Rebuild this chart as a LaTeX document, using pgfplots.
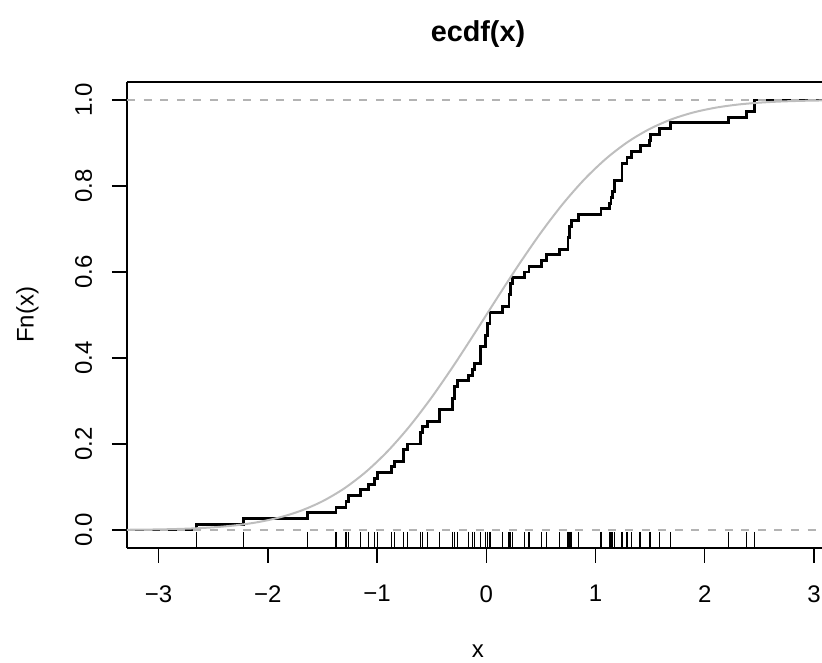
\documentclass[border=0pt]{standalone}
\usepackage{fontspec}
\setmainfont{Liberation Sans}
\usepackage{pgfplots}
\pgfplotsset{compat=1.18}
\usepackage{pgfplotstable}
\definecolor{rgray}{HTML}{BEBEBE}
\definecolor{rgray70}{HTML}{B3B3B3}

\pgfplotstableread{
x n
-3.290 0
-2.652 1
-2.225 2
-1.636 3
-1.376 4
-1.285 5
-1.260 6
-1.150 7
-1.081 8
-1.026 9
-0.995 10
-0.866 11
-0.842 12
-0.760 14
-0.723 15
-0.601 17
-0.582 18
-0.537 19
-0.430 21
-0.308 23
-0.293 25
-0.266 26
-0.165 27
-0.128 28
-0.110 29
-0.051 32
-0.009 34
0.009 36
0.034 38
0.150 39
0.208 41
0.223 43
0.238 44
0.348 45
0.391 46
0.507 47
0.553 48
0.668 49
0.748 51
0.766 53
0.782 54
0.842 55
1.050 56
1.126 57
1.142 58
1.158 59
1.172 61
1.243 64
1.288 65
1.332 66
1.408 67
1.496 68
1.505 69
1.584 70
1.689 71
2.216 72
2.385 73
2.458 75
3.074 75
}\ecdftab

\pgfplotstableread{
x y
-2.652 -0.02326
-2.225 -0.02326
-1.636 -0.02326
-1.376 -0.02326
-1.285 -0.02326
-1.260 -0.02326
-1.150 -0.02326
-1.081 -0.02326
-1.026 -0.02326
-0.995 -0.02326
-0.866 -0.02326
-0.842 -0.02326
-0.760 -0.02326
-0.723 -0.02326
-0.601 -0.02326
-0.582 -0.02326
-0.537 -0.02326
-0.430 -0.02326
-0.308 -0.02326
-0.293 -0.02326
-0.266 -0.02326
-0.165 -0.02326
-0.128 -0.02326
-0.110 -0.02326
-0.051 -0.02326
-0.009 -0.02326
0.009 -0.02326
0.034 -0.02326
0.150 -0.02326
0.208 -0.02326
0.223 -0.02326
0.238 -0.02326
0.348 -0.02326
0.391 -0.02326
0.507 -0.02326
0.553 -0.02326
0.668 -0.02326
0.748 -0.02326
0.766 -0.02326
0.782 -0.02326
0.842 -0.02326
1.050 -0.02326
1.126 -0.02326
1.142 -0.02326
1.158 -0.02326
1.172 -0.02326
1.243 -0.02326
1.288 -0.02326
1.332 -0.02326
1.408 -0.02326
1.496 -0.02326
1.505 -0.02326
1.584 -0.02326
1.689 -0.02326
2.216 -0.02326
2.385 -0.02326
2.458 -0.02326
}\rugtab

\pgfplotstableread{
x p
-3.29 0.00050
-3.1 0.00097
-2.9 0.00187
-2.7 0.00347
-2.5 0.00621
-2.3 0.01072
-2.1 0.01786
-1.9 0.02872
-1.7 0.04457
-1.5 0.06681
-1.3 0.09680
-1.1 0.13567
-0.9 0.18406
-0.7 0.24196
-0.5 0.30854
-0.3 0.38209
-0.1 0.46017
0.1 0.53983
0.3 0.61791
0.5 0.69146
0.7 0.75804
0.9 0.81594
1.1 0.86433
1.3 0.90320
1.5 0.93319
1.7 0.95543
1.9 0.97128
2.1 0.98214
2.3 0.98928
2.5 0.99379
2.7 0.99653
2.9 0.99813
3.074 0.99894
}\normtab

\begin{document}
\begin{tikzpicture}
\begin{axis}[
  scale only axis, width=347.5pt, height=233pt,
  xmin=-3.29, xmax=3.074, ymin=-0.04186, ymax=1.04186,
  axis x line*=box, axis y line*=left,
  xtick pos=left, ytick pos=left,
  axis line style={line width=0.65pt, black},
  tick align=outside, major tick length=7.5pt,
  major tick style={line width=0.65pt, black},
  xtick={-3,-2,-1,0,1,2,3}, xticklabels={−3,−2,−1,0,1,2,3},
  ytick={0,0.2,0.4,0.6,0.8,1}, yticklabels={0.0,0.2,0.4,0.6,0.8,1.0},
  tick label style={font=\fontsize{12pt}{14pt}\selectfont},
  xticklabel style={anchor=north, inner sep=0pt, yshift=-11pt},
  yticklabel style={xshift=-9.7pt, rotate=90, anchor=south, inner sep=0pt},
  title={ecdf(x)},
  title style={font=\fontsize{14.4pt}{17pt}\selectfont\bfseries, at={(axis description cs:0.505,1.0622)}, anchor=base, inner sep=0pt},
  xlabel={x}, ylabel={Fn(x)},
  label style={font=\fontsize{12pt}{14pt}\selectfont, inner sep=0pt},
  xlabel style={at={(axis description cs:0.505,-0.2355)}, anchor=base},
  ylabel style={at={(axis description cs:-0.1344,0.5)}, anchor=base, rotate=0},
]
\addplot[const plot, black, line width=1.45pt] table[x=x, y expr=\thisrow{n}/75] {\ecdftab};
\addplot[rgray70, line width=0.75pt, dash pattern=on 4pt off 4.3pt] coordinates {(-3.29,0) (3.074,0)};
\addplot[rgray70, line width=0.75pt, dash pattern=on 4pt off 4.3pt] coordinates {(-3.29,1) (3.074,1)};
\addplot[rgray, line width=1pt, smooth] table[x=x, y=p] {\normtab};
\addplot[only marks, mark=|, mark size=4pt, mark options={line width=0.6pt, black}] table[x=x, y=y] {\rugtab};
\coordinate (bbSW) at (rel axis cs:-0.18273,-0.24678);
\coordinate (bbNE) at (rel axis cs:1,1.17597);
\end{axis}
\pgfresetboundingbox
\path (bbSW) rectangle (bbNE);
\end{tikzpicture}
\end{document}
